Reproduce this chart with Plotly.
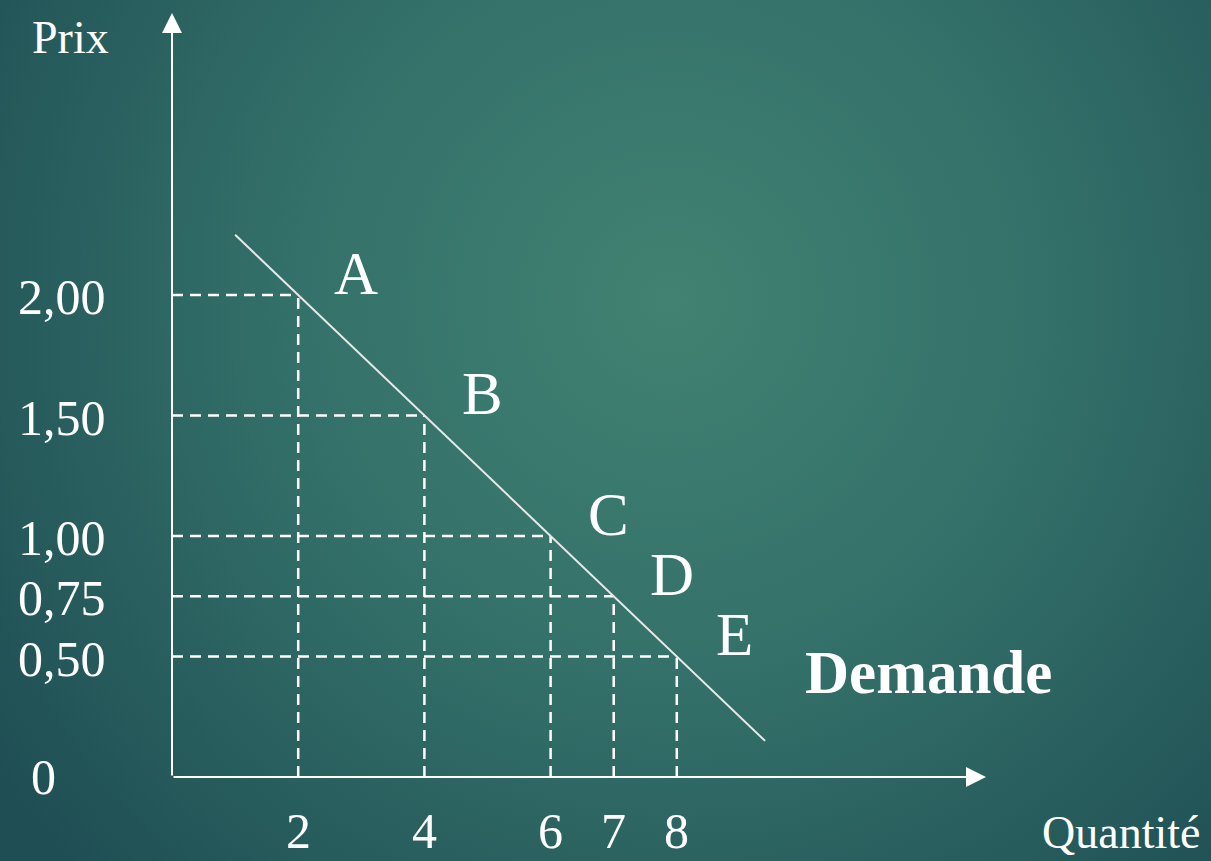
import base64
import plotly.graph_objects as go

# Demand schedule: quantity demanded at each price (Q = 10 - 4P)
point_labels = ["A", "B", "C", "D", "E"]
quantities = [2, 4, 6, 7, 8]
prices = [2.00, 1.50, 1.00, 0.75, 0.50]

# Axis tick labels (French decimal comma)
price_tick_text = ["2,00", "1,50", "1,00", "0,75", "0,50"]
qty_tick_text = ["2", "4", "6", "7", "8"]

# Ends of the drawn demand line
demand_q = [1.0, 9.4]
demand_p = [2.25, 0.15]

# Page geometry: the whole page is the plotting area
W, H = 1211, 861
ORIGIN_PX = (172, 777)      # pixel position of (0, 0)
X_UNIT_PX = 63.1            # pixels per unit of quantity
Y_UNIT_PX = 241.0           # pixels per unit of price
x_range = [-ORIGIN_PX[0] / X_UNIT_PX, (W - ORIGIN_PX[0]) / X_UNIT_PX]
y_range = [-(H - ORIGIN_PX[1]) / Y_UNIT_PX, ORIGIN_PX[1] / Y_UNIT_PX]
x_axis_end = (986 - ORIGIN_PX[0]) / X_UNIT_PX
y_axis_end = (ORIGIN_PX[1] - 13) / Y_UNIT_PX

SERIF = "Liberation Serif, Times New Roman, serif"
WHITE = "#ffffff"

# Teal radial-gradient backdrop
svg = f"""<svg xmlns='http://www.w3.org/2000/svg' width='{W}' height='{H}'>
<defs><radialGradient id='g' gradientUnits='userSpaceOnUse' cx='670' cy='300' r='820'>
<stop offset='0' stop-color='#418272'/>
<stop offset='0.45' stop-color='#34716a'/>
<stop offset='1' stop-color='#1f4f54'/>
</radialGradient></defs>
<rect width='{W}' height='{H}' fill='url(#g)'/></svg>"""
bg_uri = "data:image/svg+xml;base64," + base64.b64encode(svg.encode()).decode()

fig = go.Figure()

# Dashed guides from each point to both axes
gx, gy = [], []
for q, p in zip(quantities, prices):
    gx += [0, q, None, q, q, None]
    gy += [p, p, None, 0, p, None]
fig.add_trace(go.Scatter(
    x=gx, y=gy, mode="lines", hoverinfo="skip",
    line=dict(color=WHITE, width=2.5, dash="11px,7px"),
))

# Demand curve
fig.add_trace(go.Scatter(
    x=demand_q, y=demand_p, mode="lines", hoverinfo="skip",
    line=dict(color="#e8e8e8", width=2),
))

annotations = []

# Axes drawn as arrows from the origin
for xe, ye in [(x_axis_end, 0), (0, y_axis_end)]:
    annotations.append(dict(
        x=xe, y=ye, ax=0, ay=0, xref="x", yref="y", axref="x", ayref="y",
        text="", showarrow=True, arrowhead=2, arrowsize=2, arrowwidth=2,
        arrowcolor=WHITE, standoff=0, startstandoff=0,
    ))

# Price tick labels
for p, t in zip(prices, price_tick_text):
    annotations.append(dict(
        x=0, y=p, xref="x", yref="y", text=t, showarrow=False,
        xanchor="right", yanchor="middle", xshift=-64, yshift=-2,
        font=dict(family=SERIF, size=50, color=WHITE),
    ))
annotations.append(dict(
    x=0, y=0, xref="x", yref="y", text="0", showarrow=False,
    xanchor="center", yanchor="middle", xshift=-129, yshift=0,
    font=dict(family=SERIF, size=50, color=WHITE),
))

# Quantity tick labels
for q, t in zip(quantities, qty_tick_text):
    annotations.append(dict(
        x=q, y=0, xref="x", yref="y", text=t, showarrow=False,
        xanchor="center", yanchor="middle", yshift=-54, borderpad=0,
        font=dict(family=SERIF, size=50, color=WHITE),
    ))

# Point letters
for q, p, lab in zip(quantities, prices, point_labels):
    annotations.append(dict(
        x=q, y=p, xref="x", yref="y", text=lab, showarrow=False,
        xanchor="center", yanchor="middle", xshift=58, yshift=22,
        font=dict(family=SERIF, size=61, color=WHITE),
    ))

# Axis titles and curve name
annotations += [
    dict(x=70 / W, y=1 - 38 / H, xref="paper", yref="paper", text="Prix",
         showarrow=False, xanchor="center", yanchor="middle",
         font=dict(family=SERIF, size=46, color=WHITE)),
    dict(x=1121 / W, y=1 - 832 / H, xref="paper", yref="paper", text="Quantité",
         showarrow=False, xanchor="center", yanchor="middle", borderpad=0,
         font=dict(family=SERIF, size=46, color=WHITE)),
    dict(x=928 / W, y=1 - 672 / H, xref="paper", yref="paper", text="<b>Demande</b>",
         showarrow=False, xanchor="center", yanchor="middle",
         font=dict(family=SERIF, size=61, color=WHITE)),
]

fig.update_layout(
    width=W, height=H,
    margin=dict(l=0, r=0, t=0, b=0),
    paper_bgcolor="#2f6863", plot_bgcolor="rgba(0,0,0,0)",
    showlegend=False,
    xaxis=dict(range=x_range, visible=False, fixedrange=True),
    yaxis=dict(range=y_range, visible=False, fixedrange=True),
    annotations=annotations,
    images=[dict(source=bg_uri, xref="paper", yref="paper", x=0, y=1,
                 sizex=1, sizey=1, sizing="stretch", layer="below")],
)

fig.write_html("out.html", config={"displayModeBar": False})
